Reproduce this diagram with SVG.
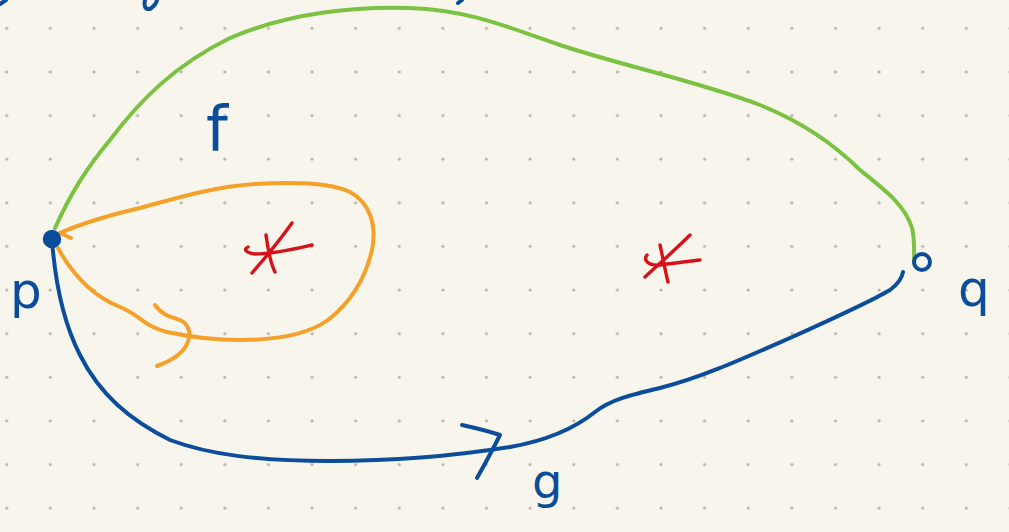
<svg xmlns="http://www.w3.org/2000/svg" width="1009" height="532" viewBox="0 0 1009 532">
<style>
.ln{fill:none;stroke-linecap:round;stroke-linejoin:round}
.gr{stroke:#7cc242;stroke-width:4}
.bl{stroke:#0b4d9a;stroke-width:4}
.or{stroke:#f5a02a;stroke-width:4}
.rd{stroke:#d5121b;stroke-width:3.4}
.lbl{font-family:"DejaVu Sans","Liberation Sans",sans-serif;fill:#0b4d9a}
</style>
<defs>
<pattern id="dots" patternUnits="userSpaceOnUse" x="-15.11" y="6.49" width="43.62" height="43.62">
<circle cx="21.81" cy="21.81" r="1.6" fill="#b3b1aa"/>
</pattern>
</defs>
<rect width="1009" height="532" fill="#f8f6ec"/>
<rect width="1009" height="532" fill="url(#dots)"/>
<g id="fragments" class="ln bl">
<path d="M0,4 L6,0"/>
<path d="M145,0 Q143,10 150,9 Q156,5 157,0"/>
<path d="M458,3 L462,0"/>
</g>
<g id="connectors" class="ln">
<path id="f" class="gr" d="M55,228 C70,195 85,170 110,140 C140,100 175,65 230,38 C290,12 360,6 410,8 C470,10 510,28 560,45 C620,65 700,82 760,105 C810,125 840,150 860,170 C885,190 905,205 912,228 C915,240 914,255 914,263"/>
<path id="g" class="bl" d="M52,240 C55,280 62,320 80,355 C100,395 130,420 170,440 C210,455 260,461 330,461 C400,461 460,455 510,447 C550,440 575,428 595,412 C610,400 630,395 660,388 C700,378 740,360 790,338 C830,320 870,302 890,290 C898,284 902,278 903,272"/>
<path class="bl" d="M462,425 Q485,430 500,435 Q490,455 477,478"/>
<path id="loop" class="or" d="M58,248 C70,270 90,295 120,307 C140,315 145,327 167,332 C190,337 210,340 240,340 C280,340 310,333 328,320 C350,303 365,280 372,250 C377,225 370,203 350,192 C330,182 290,182 255,184 C210,187 170,200 140,208 C110,215 85,222 60,233"/>
<path class="or" d="M60,233 L71,238"/>
<path class="or" d="M155,305 C162,315 170,317 180,320 C190,325 192,335 186,346 C180,356 168,362 157,366"/>
<text class="lbl" x="206" y="150" font-size="62">f</text>
<text class="lbl" x="532" y="498" font-size="48">g</text>
</g>
<g id="p">
<circle cx="52" cy="239" r="7.5" fill="#0b4d9a" stroke="#0b4d9a" stroke-width="3.5"/>
<text class="lbl" x="10" y="308" font-size="50">p</text>
</g>
<g id="q">
<circle cx="922" cy="262" r="8" fill="none" stroke="#0b4d9a" stroke-width="4"/>
<text class="lbl" x="958" y="306" font-size="50">q</text>
</g>
<g id="stars" class="ln rd">
<path d="M292,223 C280,240 265,258 252,273"/>
<path d="M266,235 C268,250 270,262 275,272"/>
<path d="M248,247 C243,249 246,253 255,254 C275,254 295,249 312,245"/>
<path d="M690,235 C675,250 658,265 645,277"/>
<path d="M660,245 C663,258 665,270 668,282"/>
<path d="M647,255 C643,260 648,266 660,265 C675,263 690,261 700,260"/>
</g>
</svg>
